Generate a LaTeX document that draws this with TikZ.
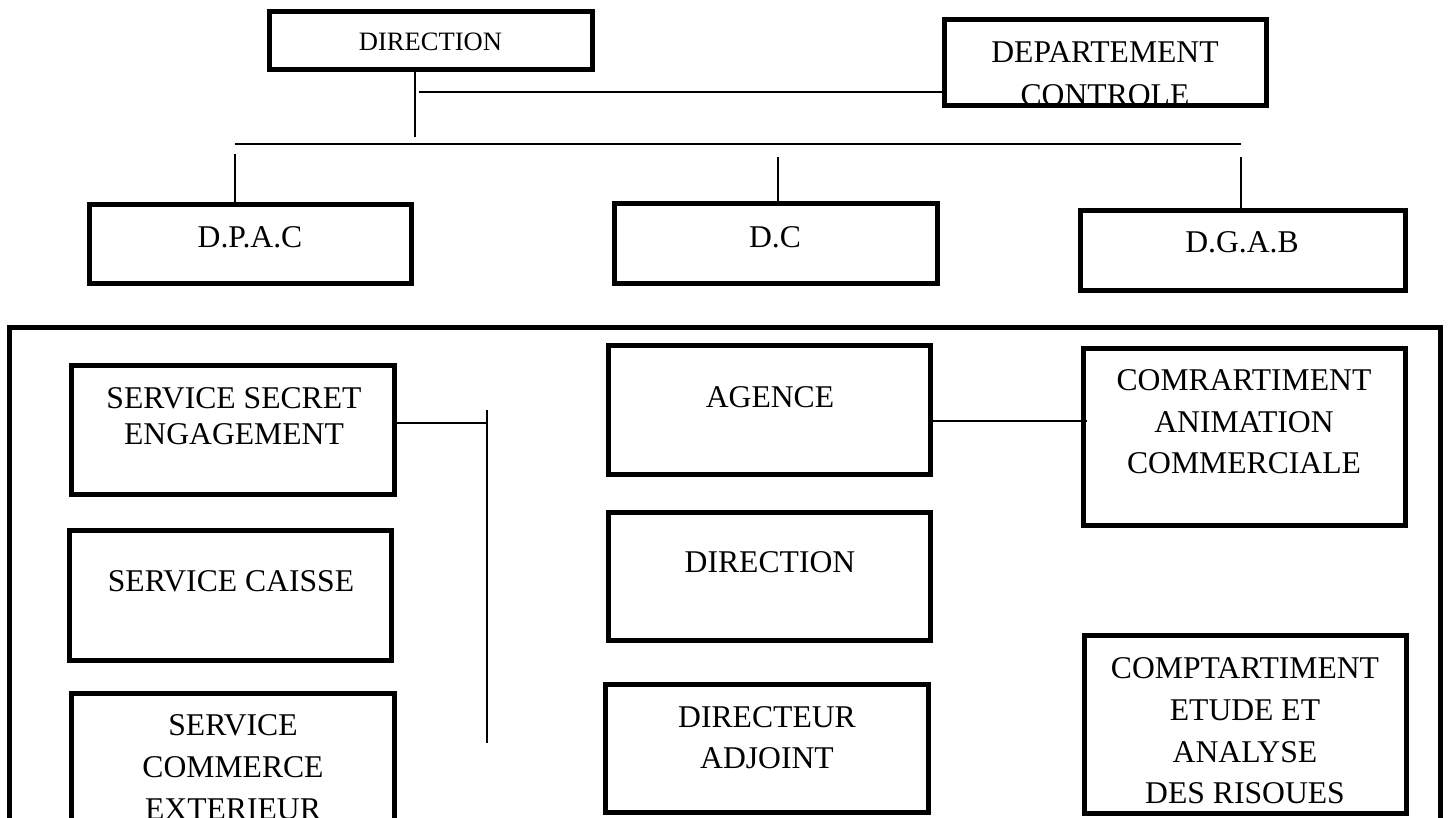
\documentclass[tikz,border=0pt]{standalone}
\usepackage{fontspec}
\setmainfont{Liberation Serif}
\begin{document}
\begin{tikzpicture}[x=0.01cm,y=-0.01cm,
  box/.style={draw=black,line width=1.42pt,inner sep=0pt,outer sep=0pt,fill=none},
  wire/.style={draw=black,line width=0.6pt},
  lbl/.style={anchor=base,inner sep=0pt,font=\fontsize{9pt}{10pt}\selectfont},
  smalllbl/.style={lbl,font=\fontsize{7.55pt}{8.5pt}\selectfont}]
\useasboundingbox (0,0) rectangle (1451,817);
\clip (0,0) rectangle (1451,817);

% top level
\node[box,minimum width=3.23cm,minimum height=0.58cm] (dir) at (431,40.5) {};
\node[box,minimum width=3.22cm,minimum height=0.86cm] (dep) at (1105.5,62.5) {};
\node[box,minimum width=3.22cm,minimum height=0.79cm] (dpac) at (250.5,244) {};
\node[box,minimum width=3.23cm,minimum height=0.80cm] (dc) at (776,243.5) {};
\node[box,minimum width=3.25cm,minimum height=0.80cm] (dgab) at (1243,250.5) {};

\node[smalllbl] (tdir) at (430.5,50) {DIRECTION};
\node[lbl] (tdep) at (1105,62) {DEPARTEMENT};
\begin{scope}
  \clip (947,22) rectangle (1264,102);
  \node[lbl] (tctl) at (1105,105.5) {CONTROLE};
\end{scope}
\node[lbl] (tdpac) at (250,247) {D.P.A.C};
\node[lbl] (tdc) at (775,247) {D.C};
\node[lbl] (tdgab) at (1242,252) {D.G.A.B};

% connectors of the top level
\coordinate (j0) at (415,72);
\coordinate (j1) at (415,137);
\coordinate (j2) at (419,92);
\coordinate (busL) at (235,144);
\coordinate (busR) at (1241,144);
\coordinate (d1) at (235,154);
\coordinate (d2) at (778,157);
\coordinate (d3) at (1241,157);
\draw[wire] (j0 |- dir.south) -- (j1);
\draw[wire] (j2) -- (j2 -| dep.west);
\draw[wire] (busL) -- (busR);
\draw[wire] (d1) -- (d1 |- dpac.north);
\draw[wire] (d2) -- (d2 |- dc.north);
\draw[wire] (d3) -- (d3 |- dgab.north);

% frame of the lower part
\node[box,minimum width=14.31cm,minimum height=5.725cm] (cont) at (725,613.75) {};

% left column
\node[box,minimum width=3.23cm,minimum height=1.29cm] (sse) at (233,430) {};
\node[box,minimum width=3.22cm,minimum height=1.30cm] (sca) at (230.5,595.5) {};
\node[box,minimum width=3.23cm,minimum height=1.29cm] (sce) at (233,758) {};
\node[lbl] (tsse1) at (234,408) {SERVICE SECRET};
\node[lbl] (tsse2) at (234,444) {ENGAGEMENT};
\node[lbl] (tsca) at (231,591) {SERVICE CAISSE};
\node[lbl] (tsce1) at (233,735) {SERVICE};
\node[lbl] (tsce2) at (233,777) {COMMERCE};
\node[lbl] (tsce3) at (233,819) {EXTERIEUR};

\coordinate (vt) at (487,410);
\coordinate (vb) at (487,743);
\coordinate (vj) at (487,423);
\draw[wire] (vt) -- (vb);
\draw[wire] (vj -| sse.east) -- (vj);

% middle column
\node[box,minimum width=3.22cm,minimum height=1.29cm] (agence) at (769.5,410) {};
\node[box,minimum width=3.22cm,minimum height=1.28cm] (dir2) at (769.5,576.5) {};
\node[box,minimum width=3.23cm,minimum height=1.28cm] (dira) at (767,748.5) {};
\node[lbl] (tag) at (770,407) {AGENCE};
\node[lbl] (tdir2) at (770,572) {DIRECTION};
\node[lbl] (tdira1) at (767,727) {DIRECTEUR};
\node[lbl] (tdira2) at (767,768) {ADJOINT};

% right column
\node[box,minimum width=3.22cm,minimum height=1.77cm] (comr) at (1244.5,437) {};
\node[box,minimum width=3.22cm,minimum height=1.78cm] (comp) at (1245.5,724.5) {};
\node[lbl] (tcomr1) at (1244,390) {COMRARTIMENT};
\node[lbl] (tcomr2) at (1244,432) {ANIMATION};
\node[lbl] (tcomr3) at (1244,473) {COMMERCIALE};
\node[lbl] (tcomp1) at (1245,678) {COMPTARTIMENT};
\node[lbl] (tcomp2) at (1245,720) {ETUDE ET};
\node[lbl] (tcomp3) at (1245,762) {ANALYSE};
\node[lbl] (tcomp4) at (1245,803) {DES RISOUES};

\coordinate (cj) at (1087,421);
\draw[wire] (cj -| agence.east) -- (cj);
\end{tikzpicture}
\end{document}
